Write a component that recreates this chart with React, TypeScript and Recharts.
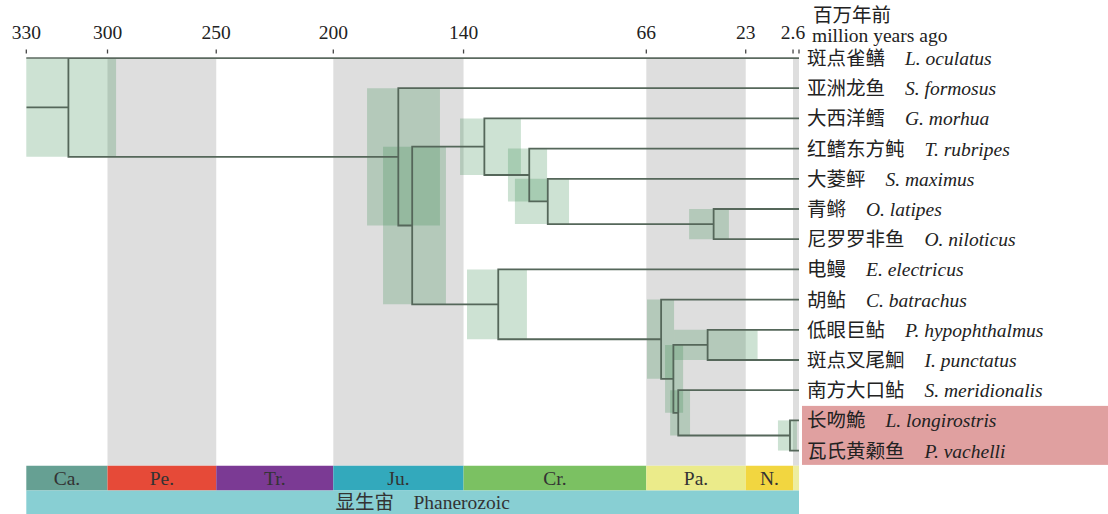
import { ComposedChart, Line, XAxis, YAxis, ReferenceArea } from "recharts";

// leaves, top to bottom
const leafCn = ["斑点雀鳝", "亚洲龙鱼", "大西洋鳕", "红鳍东方鲀", "大菱鲆", "青鳉", "尼罗罗非鱼", "电鳗", "胡鲇", "低眼巨鲇", "斑点叉尾鮰", "南方大口鲇", "长吻鮠", "瓦氏黄颡鱼"];
const leafLatin = ["L. oculatus", "S. formosus", "G. morhua", "T. rubripes", "S. maximus", "O. latipes", "O. niloticus", "E. electricus", "C. batrachus", "P. hypophthalmus", "I. punctatus", "S. meridionalis", "L. longirostris", "P. vachelli"];
const highlightLeaves = [12, 13];

// internal nodes: children are leaves ("L3") or other nodes ("N2")
const nodeChildren = [["L0", "N1"], ["L1", "N2"], ["N3", "N7"], ["L2", "N4"], ["L3", "N5"], ["L4", "N6"], ["L5", "L6"], ["L7", "N8"], ["L8", "N9"], ["N10", "N11"], ["L9", "L10"], ["L11", "N12"], ["L12", "L13"]];
// divergence times (million years ago) and confidence intervals
const nodeAges = [315.8, 173.2, 167.2, 136.0, 116.6, 108.6, 36.9, 130.0, 59.6, 54.3, 39.5, 52.2, 3.9];
const ciLow = [295.2, 155.2, 152.6, 120.2, 108.9, 99.4, 30.3, 117.6, 54.0, 50.1, 17.9, 47.1, 0.9];
const ciHigh = [334, 186.7, 179.8, 146.5, 125.8, 122.8, 47.5, 143.5, 65.7, 57.9, 54.0, 55.7, 9.1];

// geologic time scale
const periodNames = ["Ca.", "Pe.", "Tr.", "Ju.", "Cr.", "Pa.", "N.", ""];
const periodStart = [334, 298.9, 251.9, 201.3, 145, 66, 23.03, 2.58];
const periodEnd = [298.9, 251.9, 201.3, 145, 66, 23.03, 2.58, 0];
const shadedPeriods = [1, 3, 5, 7];
const eonCn = "显生宙";
const eonEn = "Phanerozoic";

const tickValues = [334, 298.9, 251.9, 201.3, 145, 66, 23.03, 2.58, 0];
const tickLabels = ["330", "300", "250", "200", "140", "66", "23", "2.6", ""];

const AGE_MAX = 334;
const ROW_MAX = 15.1;
const BAND_BOTTOM = 13.5;
const PERIOD_BOTTOM = 14.32;

const periodColors = ["#66a093", "#e64a38", "#7b3a94", "#33a9bc", "#7bc162", "#ebeb8a", "#f2d640", "#ededa0"];
const SERIF = "'Liberation Serif', 'Times New Roman', 'Noto Sans CJK SC', serif";
const TREE = "#55675a";

const yOf = (ref: string): number =>
  ref[0] === "L" ? Number(ref.slice(1)) : nodeY(Number(ref.slice(1)));
function nodeY(i: number): number {
  const [a, b] = nodeChildren[i];
  return (yOf(a) + yOf(b)) / 2;
}
const ageOf = (ref: string) => (ref[0] === "L" ? 0 : nodeAges[Number(ref.slice(1))]);

const brackets = nodeChildren.map(([a, b], i) => [
  { age: ageOf(a), y: yOf(a) },
  { age: nodeAges[i], y: yOf(a) },
  { age: nodeAges[i], y: yOf(b) },
  { age: ageOf(b), y: yOf(b) },
]);
const stem = [
  { age: AGE_MAX, y: nodeY(0) },
  { age: nodeAges[0], y: nodeY(0) },
];

const TimeTick = (props: any) => {
  const { x, y, payload } = props;
  const label = tickLabels[tickValues.indexOf(payload.value)];
  return (
    <g>
      <line x1={x} x2={x} y1={y - 8.5} y2={y - 4.5} stroke="#444" strokeWidth={1.3} />
      {label && (
        <text x={x} y={y - 18.6} textAnchor="middle" fontSize={19.5} fontFamily={SERIF} fill="#222">
          {label}
        </text>
      )}
    </g>
  );
};

const LeafTick = (props: any) => {
  const { x, y, payload } = props;
  const i = payload.value as number;
  return (
    <g>
      {i === highlightLeaves[0] && (
        <rect x={x + 3} y={y - 14.5} width={306} height={59} fill="#e0a0a0" />
      )}
      <text x={x + 8} y={y + 7} fontSize={19.5} fontFamily={SERIF} fill="#222">
        <tspan>{leafCn[i]}</tspan>
        <tspan dx={20} fontStyle="italic">{leafLatin[i]}</tspan>
      </text>
    </g>
  );
};

const renderHeader = (props: any) => {
  const vb = props.viewBox ?? { x: 26.3, width: 772.7 };
  const x = vb.x + vb.width + 13;
  return (
    <g>
      <text x={x + 1} y={22.4} fontSize={19.5} fontFamily={SERIF} fill="#222">百万年前</text>
      <text x={x} y={42.3} fontSize={19.5} fontFamily={SERIF} fill="#222">million years ago</text>
    </g>
  );
};

export default function App() {
  return (
    <div style={{ position: "absolute", left: 0, top: 0, width: 1108, height: 514, background: "#fff" }}>
      <ComposedChart width={1108} height={514} margin={{ top: 0, right: 0, bottom: 0, left: 26.3 }}>
        <XAxis
          type="number"
          dataKey="age"
          orientation="top"
          domain={[0, AGE_MAX]}
          reversed
          allowDataOverflow
          ticks={tickValues}
          interval={0}
          height={58}
          tickSize={0}
          tickMargin={0}
          tickLine={false}
          axisLine={{ stroke: "#5d6a60", strokeWidth: 1.5 }}
          tick={<TimeTick />}
          label={renderHeader}
        />
        <YAxis
          type="number"
          orientation="right"
          domain={[0, ROW_MAX]}
          reversed
          allowDataOverflow
          ticks={leafCn.map((_, i) => i)}
          interval={0}
          width={309}
          tickSize={0}
          tickMargin={0}
          axisLine={false}
          tickLine={false}
          tick={<LeafTick />}
        />

        {shadedPeriods.map((p) => (
          <ReferenceArea key={`band-${p}`} x1={periodStart[p]} x2={periodEnd[p]} y1={0} y2={BAND_BOTTOM} fill="#dedede" fillOpacity={1} stroke="none" />
        ))}

        {nodeChildren.map(([a, b], i) => (
          <ReferenceArea
            key={`ci-${i}`}
            x1={ciHigh[i]}
            x2={ciLow[i]}
            y1={Math.min(yOf(a), yOf(b))}
            y2={Math.max(yOf(a), yOf(b))}
            fill="#378b4f"
            fillOpacity={0.25}
            stroke="none"
          />
        ))}

        {periodNames.map((name, p) => (
          <ReferenceArea
            key={`period-${p}`}
            x1={periodStart[p]}
            x2={periodEnd[p]}
            y1={BAND_BOTTOM}
            y2={PERIOD_BOTTOM}
            fill={periodColors[p]}
            fillOpacity={1}
            stroke="none"
            label={{ value: name, position: "center", fill: "#333", fontSize: 19.5, fontFamily: SERIF }}
          />
        ))}

        <ReferenceArea
          x1={AGE_MAX}
          x2={0}
          y1={PERIOD_BOTTOM}
          y2={ROW_MAX}
          fill="#88cfd3"
          fillOpacity={1}
          stroke="none"
          label={{ value: `${eonCn}\u3000${eonEn}`, position: "center", fill: "#333", fontSize: 19.5, fontFamily: SERIF, dx: 10 }}
        />

        <Line data={stem} dataKey="y" type="linear" stroke={TREE} strokeWidth={1.8} dot={false} activeDot={false} isAnimationActive={false} />
        {brackets.map((d, i) => (
          <Line
            key={`node-${i}`}
            data={d}
            dataKey="y"
            type="linear"
            stroke={TREE}
            strokeWidth={1.8}
            strokeLinejoin="miter"
            dot={false}
            activeDot={false}
            isAnimationActive={false}
          />
        ))}
      </ComposedChart>
    </div>
  );
}
